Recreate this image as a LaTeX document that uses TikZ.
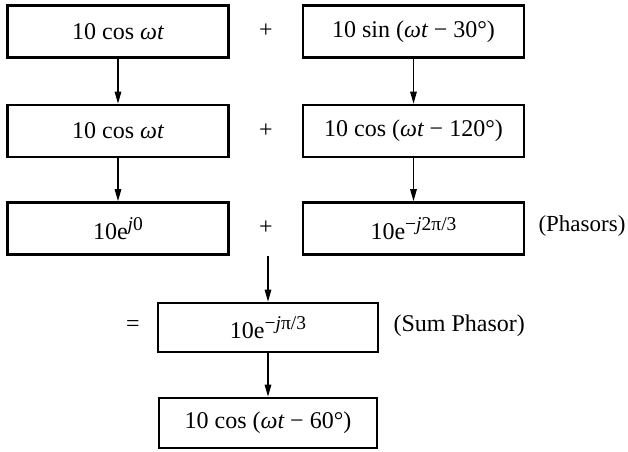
\documentclass[tikz,border=0pt]{standalone}
\usepackage{fontspec}
\setmainfont{Liberation Serif}
\usetikzlibrary{arrows.meta}
\newcommand\expo[1]{\raisebox{.4em}{\fontsize{19.5}{21}\selectfont #1}}
\begin{document}
\begin{tikzpicture}[x=1pt,y=-1pt,
    every node/.style={font=\fontsize{24}{28}\selectfont},
    box/.style={draw,line width=2.6pt,minimum width=221pt,minimum height=52pt,inner sep=0pt},
    flow/.style={line width=1.2pt,-{Triangle[length=12pt,width=6.5pt]}}]
    \useasboundingbox (0,0) rectangle (628,451);

    \node[box] (cosa) at (118,31.5) {10 cos {\itshape ωt}};
    \node (plusa) at (266,31) {+};
    \node[box] (sina) at (413.5,31.5) {10 sin ({\itshape ωt} − 30°)};

    \node[box] (cosb) at (118,131) {10 cos {\itshape ωt}};
    \node (plusb) at (266,131) {+};
    \node[box] (cosc) at (413.5,131) {10 cos ({\itshape ωt} − 120°)};

    \node[box] (expa) at (118,228.5) {10e\expo{\itshape j\upshape 0}};
    \node (plusc) at (266,228) {+};
    \node[box] (expb) at (413.5,228.5) {10e\expo{−\itshape j\upshape 2π/3}};
    \node[anchor=west,font=\fontsize{23}{26}\selectfont] (phasors) at (535,226) {(Phasors)};

    \coordinate (split) at (268,256);
    \node (equals) at (133,326) {=};
    \node[box,minimum width=220pt,minimum height=49pt] (sum) at (268,327.5) {10e\expo{−\itshape j\upshape π/3}};
    \node[anchor=west] (sumlabel) at (390,326) {(Sum Phasor)};

    \node[box,minimum width=218pt,minimum height=50pt] (result) at (268,423) {10 cos ({\itshape ωt} − 60°)};

    \draw[flow] (cosa) -- (cosb);
    \draw[flow] (cosb) -- (expa);
    \draw[flow] (sina) -- (cosc);
    \draw[flow] (cosc) -- (expb);
    \draw[flow] (split) -- (sum);
    \draw[flow] (sum) -- (result);
\end{tikzpicture}
\end{document}
